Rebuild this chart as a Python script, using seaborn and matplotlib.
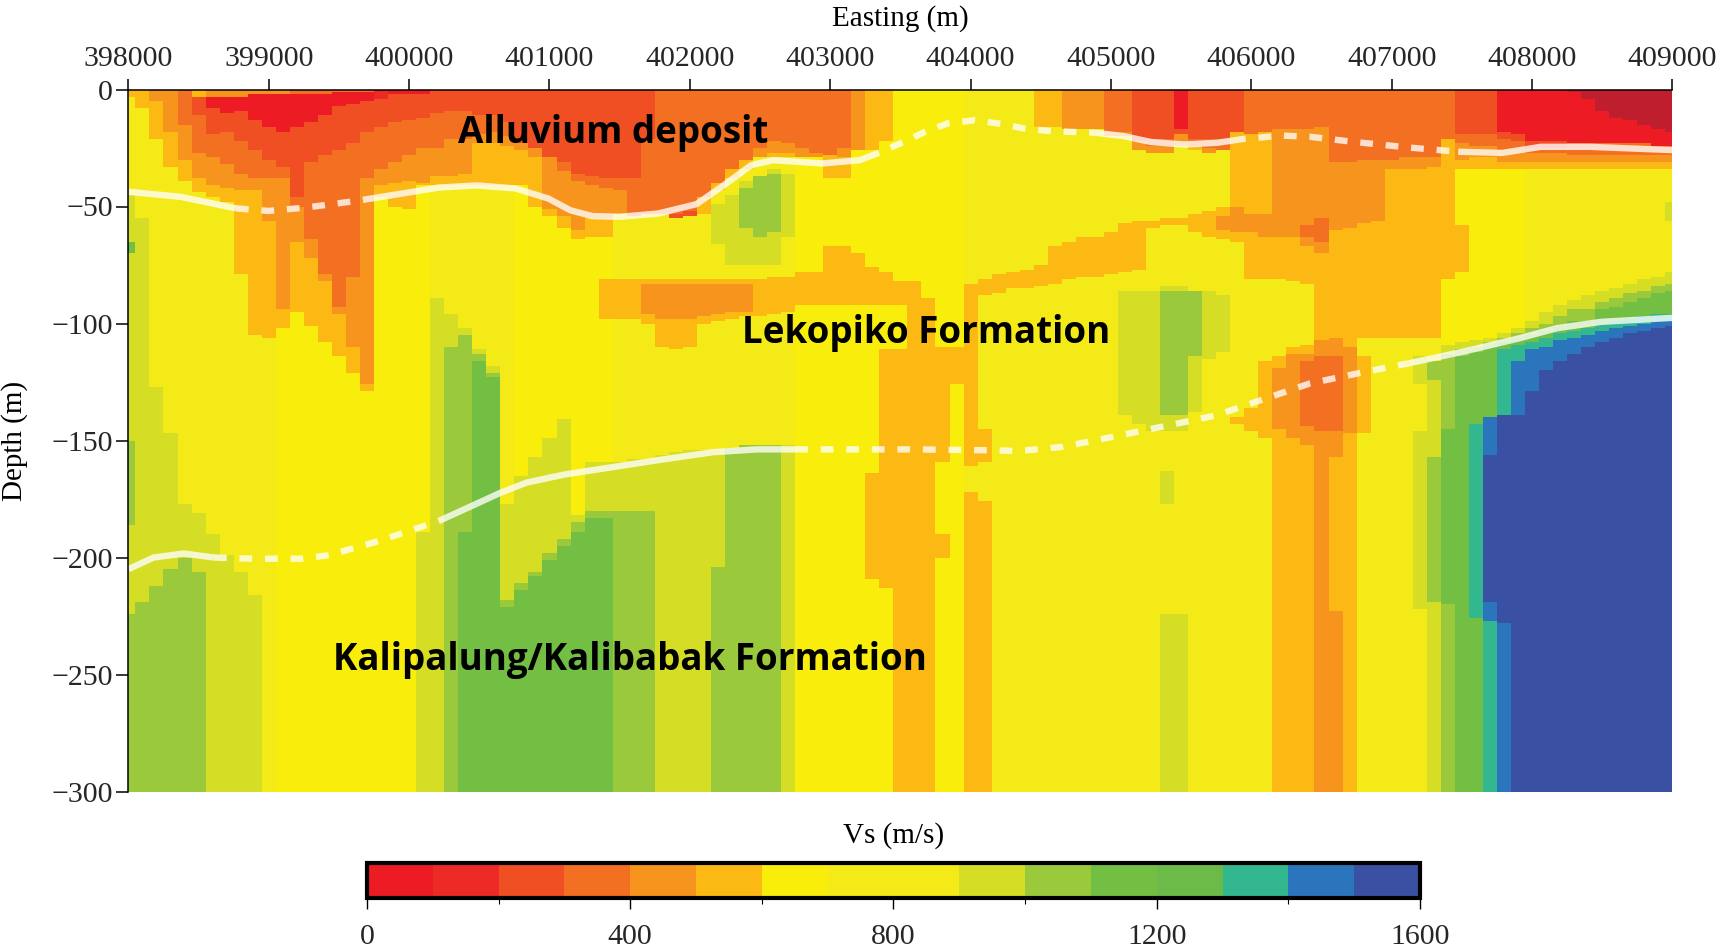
import numpy as np
import pandas as pd
import seaborn as sns
import matplotlib
matplotlib.use("Agg")
import matplotlib.pyplot as plt
from matplotlib.colors import ListedColormap, BoundaryNorm

# Each string is one model column (100 m spacing), top to bottom,
# as "Vs class : bottom depth in m". Class k means Vs of k*100..(k+1)*100 m/s; -1 is below scale.
columns_398000_400700 = [
 "5:3 7:45 9:65 11:70 9:150 10:186 9:224 10:300",
 "5:8 7:55 9:219 10:300",
 "4:5 5:21 7:127 9:212 10:300",
 "4:18 5:33 7:147 9:205 10:300",
 "3:15 4:30 5:39 7:177 9:200 10:300",
 "5:3 2:11 3:27 4:38 5:44 7:181 9:206 10:300",
 "4:3 0:8 2:19 3:29 4:41 5:46 7:190 9:300",
 "4:3 0:10 2:18 3:32 4:42 5:48 7:199 9:300",
 "4:3 0:9 2:22 3:36 4:43 5:79 7:206 9:300",
 "4:2 0:13 2:26 3:38 4:43 5:105 7:216 9:300",
 "4:2 0:16 2:30 3:38 4:56 5:106 7:300",
 "4:2 0:18 2:33 3:38 4:94 5:102 6:300",
 "3:2 0:16 2:46 3:50 4:65 5:95 6:300",
 "3:2 0:14 2:31 3:64 4:72 5:101 6:300",
 "3:2 0:11 2:28 3:79 4:82 5:108 6:300",
 "3:1 0:7 2:26 3:93 4:96 5:114 6:300",
 "3:1 0:6 2:23 3:80 4:110 5:121 6:300",
 "3:1 0:5 2:18 3:38 4:126 5:129 6:300",
 "1:4 2:16 3:34 4:41 5:46 6:300",
 "0:2 2:14 3:31 4:40 5:50 6:300",
 "0:2 2:13 3:28 4:39 5:51 6:300",
 "0:2 2:12 3:25 4:40 5:41 6:189 9:300",
 "2:10 3:25 4:37 5:41 7:89 9:300",
 "2:9 3:21 4:37 5:41 7:96 9:110 10:300",
 "2:9 3:21 4:36 5:41 7:102 9:105 10:189 11:300",
 "2:11 3:19 4:23 5:41 7:111 9:113 10:116 11:300",
 "2:11 3:18 4:23 5:41 7:118 9:121 10:123 11:300",
 "2:14 3:20 4:24 5:41 7:177 9:218 10:221 11:300",
]
columns_400800_403500 = [
 "2:23 4:26 5:41 6:165 9:211 10:214 11:300",
 "2:25 4:29 5:50 6:157 9:206 10:208 11:300",
 "2:29 4:51 5:54 6:149 9:198 10:201 11:300",
 "2:31 3:35 4:54 5:59 6:141 9:192 10:195 11:300",
 "2:36 3:39 4:60 5:64 6:182 9:185 10:189 11:300",
 "2:37 3:41 4:55 5:63 6:159 9:180 10:183 11:300",
 "2:38 3:42 4:55 5:63 6:81 5:98 6:159 9:180 10:183 11:300",
 "2:38 3:43 4:53 7:81 5:98 7:159 9:180 10:300",
 "2:38 3:54 7:81 5:98 7:158 9:180 10:300",
 "2:21 3:53 7:81 5:83 4:96 5:100 7:158 9:180 10:300",
 "3:53 7:81 5:83 4:98 5:110 7:156 9:300",
 "3:53 2:55 7:81 5:83 4:98 5:111 7:155 9:300",
 "3:52 2:54 7:81 5:83 4:98 5:110 7:154 9:300",
 "3:46 5:53 7:81 5:83 4:97 5:100 7:154 9:300",
 "3:40 5:43 7:49 9:66 7:81 5:83 4:96 5:99 7:154 9:204 10:300",
 "3:34 5:38 7:45 9:75 7:81 5:83 4:95 5:98 7:153 10:300",
 "3:30 5:34 7:39 9:42 10:59 9:75 7:81 5:83 4:95 5:97 7:152 10:300",
 "3:25 4:29 7:37 10:63 9:75 7:81 5:97 7:152 10:300",
 "3:22 4:27 5:29 7:34 9:36 10:61 9:75 7:80 5:96 7:152 10:300",
 "3:23 4:27 5:29 7:36 9:63 7:80 5:95 7:152 9:300",
 "3:25 4:29 6:78 5:92 6:300",
 "3:27 4:29 6:78 5:92 6:300",
 "3:28 5:38 6:67 5:92 6:300",
 "3:25 4:29 5:38 6:67 5:92 6:300",
 "4:26 6:70 5:92 6:300",
 "5:26 6:76 5:92 6:164 5:209 6:300",
 "5:22 6:78 5:92 6:111 5:213 6:300",
 "6:82 5:92 6:111 5:300",
]
columns_403600_406300 = [
 "6:82 5:300",
 "6:89 5:300",
 "6:110 5:159 6:190 5:200 6:300",
 "6:110 5:126 6:300",
 "7:83 5:161 7:172 5:300",
 "7:81 5:88 7:145 5:159 7:176 5:300",
 "7:79 5:87 7:300",
 "7:78 5:85 7:300",
 "7:77 5:85 7:300",
 "5:16 7:75 5:84 7:300",
 "5:16 7:67 5:83 7:300",
 "4:17 7:65 5:81 7:300",
 "4:17 7:63 5:80 7:300",
 "4:17 7:63 5:80 7:300",
 "3:18 4:20 7:61 5:79 7:300",
 "3:18 4:20 7:57 5:78 7:86 9:139 7:300",
 "2:22 4:26 7:56 5:77 7:86 9:143 7:300",
 "2:21 3:24 4:27 7:56 5:59 7:86 9:146 7:300",
 "2:21 3:24 4:27 7:55 5:58 7:84 9:86 10:139 9:146 7:163 9:177 7:224 9:300",
 "0:17 2:19 4:24 7:55 5:58 7:84 9:86 10:139 9:146 7:224 9:300",
 "2:21 3:24 5:26 7:53 5:61 7:86 10:114 9:138 7:300",
 "2:21 3:25 4:27 7:52 5:63 7:86 9:115 7:300",
 "2:21 3:26 7:50 5:54 4:60 5:64 7:88 9:112 7:300",
 "2:18 5:50 4:61 5:65 7:140 5:143 7:300",
 "3:19 5:53 4:61 5:81 7:136 5:146 7:300",
 "3:18 5:53 4:63 5:81 7:116 5:149 7:300",
 "3:17 4:63 5:81 7:114 5:119 4:145 5:300",
 "3:17 4:63 5:82 7:110 5:113 4:149 5:300",
]
columns_406400_409000 = [
 "3:17 4:58 3:63 4:67 5:83 7:109 5:113 4:116 3:144 4:152 5:300",
 "3:16 4:55 3:65 4:70 5:107 4:114 3:146 4:300",
 "3:31 4:60 5:106 4:114 3:146 4:157 5:223 4:300",
 "3:31 4:59 5:110 4:147 5:300",
 "3:30 4:57 5:106 7:114 5:147 7:300",
 "3:30 4:56 5:106 7:300",
 "3:30 4:34 5:106 7:300",
 "3:29 4:34 5:106 7:300",
 "3:29 4:34 5:106 7:114 9:126 7:146 9:222 7:300",
 "3:29 4:33 5:106 7:116 10:124 9:157 10:219 9:300",
 "3:21 5:81 6:109 9:113 10:145 11:220 10:300",
 "2:19 3:23 4:30 5:34 6:58 5:78 6:108 9:111 10:114 11:300",
 "2:19 3:24 4:29 5:34 6:107 9:110 10:112 11:143 13:226 11:300",
 "2:19 3:24 4:29 5:34 6:106 9:108 10:110 11:140 14:156 15:219 14:227 13:300",
 "0:18 2:21 3:26 4:31 5:34 6:104 9:106 10:108 11:111 13:139 15:228 14:300",
 "0:19 2:22 3:26 4:31 5:34 6:102 9:104 10:106 11:109 13:116 14:139 15:300",
 "0:22 2:25 3:27 4:31 5:34 7:99 9:102 10:105 11:108 13:111 14:129 15:300",
 "0:22 2:25 3:27 4:31 5:34 7:95 9:100 10:103 11:106 13:110 14:120 15:300",
 "0:22 2:25 3:27 4:31 5:34 7:92 9:97 10:101 11:104 13:107 14:116 15:300",
 "-1:1 0:23 3:28 4:31 5:34 7:90 9:94 10:99 11:103 13:106 14:113 15:300",
 "-1:4 0:23 3:28 4:31 5:34 7:88 9:94 10:99 11:102 13:105 14:110 15:300",
 "-1:9 0:23 3:28 4:31 5:34 7:86 9:91 10:94 11:100 13:103 14:108 15:300",
 "-1:12 0:23 3:28 4:31 5:34 7:85 9:89 10:93 11:99 13:102 14:106 15:300",
 "-1:13 0:23 3:28 4:31 5:34 7:83 9:87 10:91 11:98 13:101 14:104 15:300",
 "-1:15 0:23 3:28 4:31 5:34 7:81 9:86 10:89 11:97 13:100 14:103 15:300",
 "-1:17 0:24 3:28 4:31 5:34 7:80 9:84 10:87 11:96 13:99 14:102 15:300",
 "-1:18 0:24 3:28 4:31 5:34 7:48 9:56 7:78 9:83 10:86 11:96 13:99 14:101 15:300",
]

class_colors = ["#ed1c24", "#ee2a27", "#f04e23", "#f36f21", "#f7941d", "#fdb913",
                "#f9ed0c", "#f3ea17", "#f3ea17", "#d5de24", "#9aca3c", "#72bf44",
                "#6cbb49", "#33b78f", "#2a75bb", "#3a50a2"]
below_scale_color = "#be1e2d"
vs_edges = list(range(0, 1700, 100))
colorbar_major = [0, 400, 800, 1200, 1600]
colorbar_minor = [200, 600, 1000, 1400]

easting_ticks = list(range(398000, 410000, 1000))
depth_ticks = [0, 50, 100, 150, 200, 250, 300]

# Interface 1: base of the alluvium
top_e = [398000, 398375, 398766, 399000, 399273, 399625, 399977, 400211, 400484, 400758, 400992,
         401148, 401305, 401500, 401773, 402047, 402242, 402438, 402594, 402945, 403210, 403366,
         403523, 403679, 403836, 404031, 404227, 404383, 404579, 404892, 405088, 405283, 405518,
         405753, 405948, 406222, 406418, 406731, 407122, 407474, 407787, 408061, 408413, 408999]
top_d = [43.7, 45.9, 50.8, 51.9, 50.4, 47.6, 44.2, 41.9, 41, 42.3, 46.6,
         51.6, 54.1, 54.4, 53, 49, 40.9, 32.3, 30.2, 31.6, 30.2, 26.6,
         22.4, 18, 14.5, 13.1, 14.8, 16.7, 17.8, 18.5, 19.9, 22.4, 23.5,
         22.8, 21.1, 19.7, 20.2, 22.4, 24.8, 26.6, 27.1, 24.5, 24.5, 25.9]
top_dashed = [(398766, 399742), (403263, 404892), (405870, 407474)]
# Interface 2: base of the Lekopiko Formation
low_e = [398000, 398180, 398395, 398609, 398883, 399234, 399430, 399781, 400211, 400445, 400641,
         400836, 401109, 401383, 401773, 402164, 402477, 402750, 403600, 404149, 404344, 404657,
         405049, 405557, 405753, 406105, 406418, 406809, 407122, 407513, 407904, 408178, 408491, 408999]
low_d = [205, 200, 198.3, 200, 200.5, 200.5, 199, 193, 184.4, 178, 172.6,
         168, 164.5, 162, 158.4, 155, 153.8, 153.8, 153.8, 154.2, 154.5, 152.7,
         148, 141.7, 139.2, 132, 125.6, 120.7, 117, 112, 106.4, 102, 99.3, 97.6]
low_dashed = [(398609, 400211), (402750, 407122)]

unit_labels = ["Alluvium deposit", "Lekopiko Formation", "Kalipalung/Kalibabak Formation"]
unit_e = [401454, 403685, 401575]
unit_d = [18.5, 104, 244]

# Build the 1 m x 100 m grid of Vs values from the columns
all_columns = columns_398000_400700 + columns_400800_403500 + columns_403600_406300 + columns_406400_409000
depths = np.arange(300)
grid = np.zeros((300, len(all_columns)))
for j, col in enumerate(all_columns):
    top = 0
    for run in col.split():
        k, bottom = run.split(":")
        k, bottom = int(k), int(bottom)
        grid[top:bottom, j] = k * 100 + 50
        top = bottom
eastings = 398000 + 100 * np.arange(len(all_columns))
frame = pd.DataFrame(grid, index=depths, columns=eastings)

cmap = ListedColormap(class_colors)
cmap.set_under(below_scale_color)
norm = BoundaryNorm(vs_edges, cmap.N)

W, H = 1720, 948
sns.set_theme(style="white")
plt.rcParams["font.family"] = ["Liberation Serif", "DejaVu Serif"]
plt.rcParams["axes.unicode_minus"] = True

fig = plt.figure(figsize=(W / 100, H / 100), dpi=100, facecolor="white")
L, R, T, B = 128.4, 1672.4, 89.5, 791.5
ax = fig.add_axes([L / W, 1 - B / H, (R - L) / W, (B - T) / H])
cax = fig.add_axes([367 / W, 1 - 897.5 / H, (1420 - 367) / W, 35 / H])

sns.heatmap(frame, ax=ax, cmap=cmap, norm=norm, cbar_ax=cax, linewidths=0,
            cbar_kws={"orientation": "horizontal", "ticks": colorbar_major},
            xticklabels=False, yticklabels=False)


def ex(e):
    return (np.asarray(e, dtype=float) - 398000) / 100 + 0.5


ax.set_xlim(0.5, len(all_columns) - 0.5)
ax.set_ylim(300, 0)

for spine in ["left", "top"]:
    ax.spines[spine].set_visible(True)
    ax.spines[spine].set_color("black")
    ax.spines[spine].set_linewidth(1.1)
for spine in ["right", "bottom"]:
    ax.spines[spine].set_visible(False)

ax.xaxis.tick_top()
ax.xaxis.set_label_position("top")
ax.set_xticks(ex(easting_ticks))
ax.set_xticklabels([str(e) for e in easting_ticks], rotation=0, fontsize=21.5)
ax.set_yticks(depth_ticks)
ax.set_yticklabels(["0" if d == 0 else "\u2212%d" % d for d in depth_ticks], rotation=0, fontsize=21.5)
ax.tick_params(axis="x", which="major", top=True, bottom=False, length=8, width=1.1, color="black", pad=4.5)
ax.tick_params(axis="y", which="major", left=True, length=8.5, width=1.1, color="black", pad=2.5)
ax.set_xlabel("Easting (m)", fontsize=21, labelpad=14.5, color="black")
ax.set_ylabel("Depth (m)", fontsize=21, labelpad=17, color="black")


def draw_interface(e, d, dashed):
    e = np.asarray(e, dtype=float)
    d = np.asarray(d, dtype=float)
    edges = [e[0]]
    for a, b in dashed:
        edges += [a, b]
    edges.append(e[-1])
    for i in range(len(edges) - 1):
        a, b = edges[i], edges[i + 1]
        mask = (e > a) & (e < b)
        xs = np.r_[a, e[mask], b]
        ys = np.interp(xs, e, d)
        is_dash = i % 2 == 1
        sns.lineplot(x=ex(xs), y=ys, ax=ax, sort=False, estimator=None, color="white", alpha=0.78,
                     linewidth=4.6, legend=False,
                     **({"dashes": [(2, 2)], "style": np.zeros(len(xs))} if is_dash else {}))


draw_interface(top_e, top_d, top_dashed)
draw_interface(low_e, low_d, low_dashed)
for line in ax.get_lines():
    line.set_solid_capstyle("butt")
    line.set_dash_capstyle("butt")
    line.set_clip_on(True)

for s, e, d in zip(unit_labels, unit_e, unit_d):
    ax.text(float(ex(e)), d, s, ha="center", va="center", color="black", fontsize=26.5,
            family=["Open Sans", "DejaVu Sans"], weight="bold")

cb = ax.collections[0].colorbar
cb.set_ticks(colorbar_major)
cb.set_ticklabels([str(v) for v in colorbar_major])
cb.ax.xaxis.set_ticks(colorbar_minor, minor=True)
cb.ax.tick_params(axis="x", which="major", length=8, width=1.0, color="black", labelsize=21.5, pad=11, bottom=True)
cb.ax.tick_params(axis="x", which="minor", length=4, width=0.8, color="black", bottom=True)
cb.outline.set_visible(True)
cb.outline.set_edgecolor("black")
cb.outline.set_linewidth(3)
cb.ax.xaxis.set_label_position("top")
cb.ax.set_xlabel("Vs (m/s)", fontsize=21, labelpad=14, color="black")

fig.savefig("out.png", dpi=100, facecolor="white")
